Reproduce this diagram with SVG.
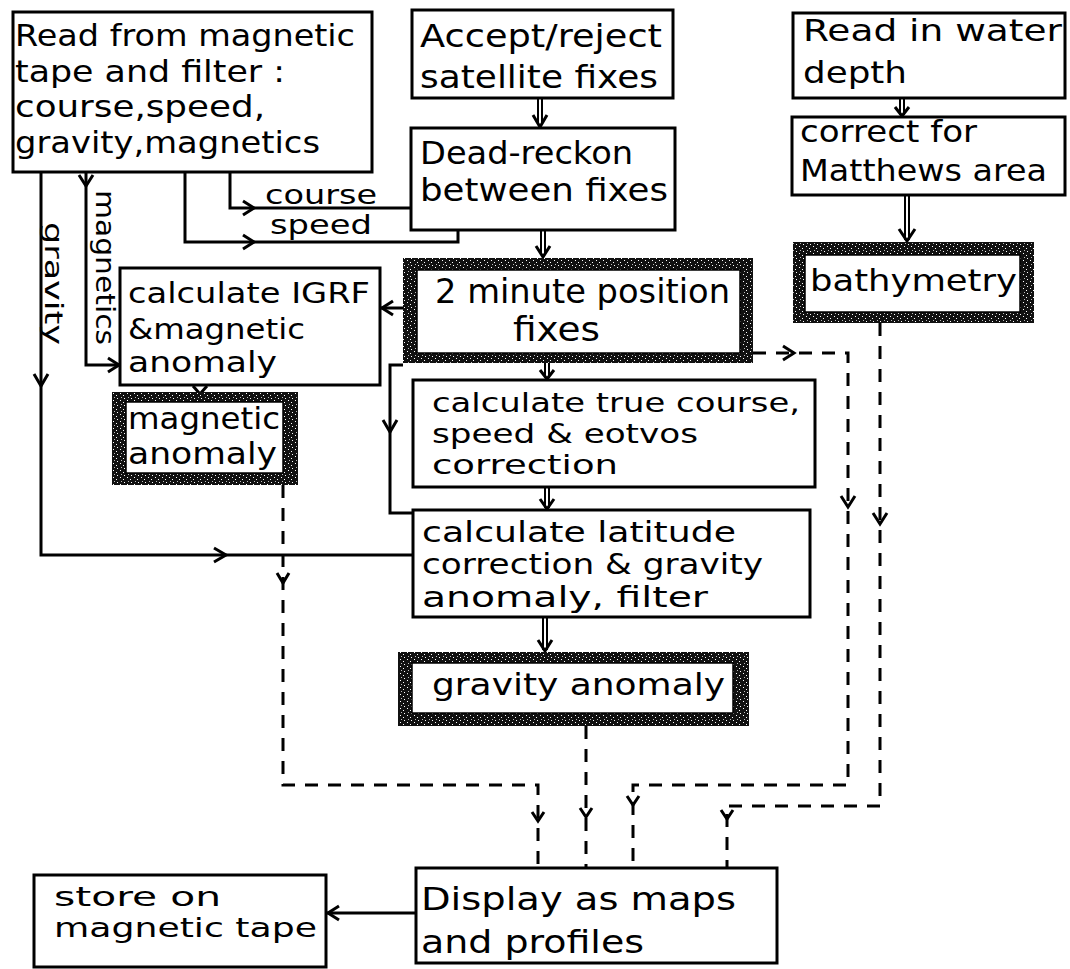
<svg xmlns="http://www.w3.org/2000/svg" width="1070" height="969" viewBox="0 0 1070 969">
<style>
.box{fill:#fff;stroke:#000;stroke-width:3}
.inner{fill:#fff;stroke:#000;stroke-width:1.5}
.t{font-family:"DejaVu Sans","Liberation Sans",sans-serif;font-size:32px;fill:#000}
.s30{font-size:30px}
.s29{font-size:29px}
.s27{font-size:27px}
.s34{font-size:34px}
.ln{fill:none;stroke:#000;stroke-width:3}
.dl{fill:none;stroke:#000;stroke-width:3;stroke-dasharray:13 10}
.hd{fill:none;stroke:#000;stroke-width:3;stroke-linejoin:miter}
.dbl{fill:none;stroke:#000;stroke-width:2}
</style>
<defs>
<pattern id="speckle" width="7" height="7" patternUnits="userSpaceOnUse">
<rect width="7" height="7" fill="#111"/>
<rect x="1" y="1" width="1" height="1" fill="#fff"/>
<rect x="4" y="3" width="1" height="1" fill="#fff"/>
<rect x="2" y="5" width="1" height="1" fill="#bbb"/>
<rect x="5" y="6" width="1" height="1" fill="#fff"/>
</pattern>
</defs>

<g id="connectors">
<path class="ln" d="M230 172 V208 H411"/>
<path class="hd" d="M243 201 L254 208 L243 215"/>
<path class="ln" d="M185 172 V242 H458 V230"/>
<path class="hd" d="M243 235 L254 242 L243 249"/>
<path class="ln" d="M86 172 V365 H120"/>
<path class="hd" d="M79 175 L86 186 L93 175"/>
<path class="hd" d="M108 358 L119 365 L108 372"/>
<path class="ln" d="M41 172 V555 H413"/>
<path class="hd" d="M34 374 L41 386 L48 374"/>
<path class="hd" d="M214 548 L226 555 L214 562"/>
<path class="ln" d="M403 308 H381"/>
<path class="hd" d="M393 301 L382 308 L393 315"/>
<path class="ln" d="M403 365 H390 V513 H413"/>
<path class="hd" d="M383 420 L390 432 L397 420"/>
<path class="ln" d="M416 913 H327"/>
<path class="hd" d="M339 906 L328 913 L339 920"/>
<path class="dbl" d="M538 98 V125 M542 98 V125"/>
<path class="hd" d="M533 115 L540 127 L547 115"/>
<path class="dbl" d="M541 230 V255 M545 230 V255"/>
<path class="hd" d="M536 246 L543 257 L550 246"/>
<path class="dbl" d="M545 363 V378 M549 363 V378"/>
<path class="hd" d="M540 370 L547 379 L554 370"/>
<path class="dbl" d="M545 487 V508 M549 487 V508"/>
<path class="hd" d="M540 499 L547 509 L554 499"/>
<path class="dbl" d="M543 617 V650 M547 617 V650"/>
<path class="hd" d="M538 640 L545 651 L552 640"/>
<path class="dbl" d="M900 98 V115 M904 98 V115"/>
<path class="hd" d="M895 107 L902 116 L909 107"/>
<path class="dbl" d="M905 195 V240 M909 195 V240"/>
<path class="hd" d="M899 229 L907 241 L915 229"/>
<path class="hd" d="M193 386 L200 394 L207 386"/>
<path class="dl" d="M753 353 H848 V785 H633 V868"/>
<path class="hd" d="M783 346 L794 353 L783 360"/>
<path class="hd" d="M841 496 L848 507 L855 496"/>
<path class="hd" d="M627 796 L633 805 L639 796"/>
<path class="dl" d="M880 323 V806 H727 V868"/>
<path class="hd" d="M873 513 L880 524 L887 513"/>
<path class="hd" d="M721 810 L727 819 L733 810"/>
<path class="dl" d="M283 485 V785 H538 V868"/>
<path class="hd" d="M277 573 L283 583 L289 573"/>
<path class="hd" d="M532 812 L538 821 L544 812"/>
<path class="dl" d="M586 726 V868"/>
<path class="hd" d="M580 808 L586 817 L592 808"/>
</g>

<g id="read-tape">
<rect class="box" x="13" y="12" width="359" height="160"/>
<text class="t s30" x="15" y="46" textLength="340" lengthAdjust="spacingAndGlyphs">Read from magnetic</text>
<text class="t s30" x="15" y="82" textLength="270" lengthAdjust="spacingAndGlyphs">tape and filter :</text>
<text class="t s30" x="15" y="117" textLength="250" lengthAdjust="spacingAndGlyphs">course,speed,</text>
<text class="t s30" x="15" y="153" textLength="305" lengthAdjust="spacingAndGlyphs">gravity,magnetics</text>
</g>

<g id="accept-reject">
<rect class="box" x="412" y="10" width="261" height="88"/>
<text class="t" x="420" y="47" textLength="242" lengthAdjust="spacingAndGlyphs">Accept/reject</text>
<text class="t" x="420" y="88" textLength="238" lengthAdjust="spacingAndGlyphs">satellite fixes</text>
</g>

<g id="dead-reckon">
<rect class="box" x="411" y="128" width="264" height="102"/>
<text class="t" x="420" y="164" textLength="213" lengthAdjust="spacingAndGlyphs">Dead-reckon</text>
<text class="t" x="420" y="201" textLength="248" lengthAdjust="spacingAndGlyphs">between fixes</text>
</g>

<g id="labels">
<text class="t s27" x="265" y="204" textLength="112" lengthAdjust="spacingAndGlyphs">course</text>
<text class="t s27" x="270" y="234" textLength="102" lengthAdjust="spacingAndGlyphs">speed</text>
<text class="t s27" transform="translate(96,190) rotate(90)" textLength="155" lengthAdjust="spacingAndGlyphs">magnetics</text>
<text class="t" style="font-size:25px" transform="translate(45,222) rotate(90)" textLength="123" lengthAdjust="spacingAndGlyphs">gravity</text>
</g>

<g id="two-minute">
<rect x="403" y="258" width="350" height="105" fill="url(#speckle)"/>
<rect class="inner" x="417" y="270" width="323" height="83"/>
<text class="t s34" x="435" y="303" textLength="295" lengthAdjust="spacingAndGlyphs">2 minute position</text>
<text class="t s34" x="513" y="341" textLength="87" lengthAdjust="spacingAndGlyphs">fixes</text>
</g>

<g id="igrf">
<rect class="box" x="120" y="268" width="260" height="117"/>
<text class="t s29" x="128" y="303" textLength="242" lengthAdjust="spacingAndGlyphs">calculate IGRF</text>
<text class="t s29" x="128" y="339" textLength="177" lengthAdjust="spacingAndGlyphs">&amp;magnetic</text>
<text class="t s29" x="128" y="372" textLength="149" lengthAdjust="spacingAndGlyphs">anomaly</text>
</g>

<g id="magnetic-anomaly">
<rect x="112" y="392" width="186" height="93" fill="url(#speckle)"/>
<rect class="inner" x="126" y="402" width="157" height="71"/>
<text class="t s30" x="128" y="429" textLength="152" lengthAdjust="spacingAndGlyphs">magnetic</text>
<text class="t s30" x="128" y="464" textLength="149" lengthAdjust="spacingAndGlyphs">anomaly</text>
</g>

<g id="true-course">
<rect class="box" x="413" y="380" width="402" height="107"/>
<text class="t s27" x="432" y="412" textLength="368" lengthAdjust="spacingAndGlyphs">calculate true course,</text>
<text class="t s27" x="432" y="443" textLength="266" lengthAdjust="spacingAndGlyphs">speed &amp; eotvos</text>
<text class="t s27" x="432" y="474" textLength="186" lengthAdjust="spacingAndGlyphs">correction</text>
</g>

<g id="latitude">
<rect class="box" x="413" y="510" width="397" height="107"/>
<text class="t s29" x="422" y="542" textLength="314" lengthAdjust="spacingAndGlyphs">calculate latitude</text>
<text class="t s29" x="422" y="574" textLength="341" lengthAdjust="spacingAndGlyphs">correction &amp; gravity</text>
<text class="t s29" x="422" y="607" textLength="286" lengthAdjust="spacingAndGlyphs">anomaly, filter</text>
</g>

<g id="gravity-anomaly">
<rect x="398" y="652" width="351" height="74" fill="url(#speckle)"/>
<rect class="inner" x="412" y="663" width="321" height="50"/>
<text class="t s30" x="432" y="695" textLength="293" lengthAdjust="spacingAndGlyphs">gravity anomaly</text>
</g>

<g id="read-depth">
<rect class="box" x="793" y="13" width="272" height="85"/>
<text class="t s30" x="803" y="41" textLength="259" lengthAdjust="spacingAndGlyphs">Read in water</text>
<text class="t s30" x="803" y="83" textLength="104" lengthAdjust="spacingAndGlyphs">depth</text>
</g>

<g id="matthews">
<rect class="box" x="792" y="117" width="273" height="78"/>
<text class="t s30" x="800" y="142" textLength="177" lengthAdjust="spacingAndGlyphs">correct for</text>
<text class="t s30" x="800" y="181" textLength="247" lengthAdjust="spacingAndGlyphs">Matthews area</text>
</g>

<g id="bathymetry">
<rect x="793" y="242" width="241" height="81" fill="url(#speckle)"/>
<rect class="inner" x="805" y="255" width="215" height="57"/>
<text class="t s30" x="810" y="291" textLength="207" lengthAdjust="spacingAndGlyphs">bathymetry</text>
</g>

<g id="store">
<rect class="box" x="34" y="875" width="292" height="92"/>
<text class="t s27" x="54" y="906" textLength="167" lengthAdjust="spacingAndGlyphs">store on</text>
<text class="t s27" x="54" y="937" textLength="263" lengthAdjust="spacingAndGlyphs">magnetic tape</text>
</g>

<g id="display">
<rect class="box" x="416" y="868" width="361" height="95"/>
<text class="t" x="421" y="910" textLength="315" lengthAdjust="spacingAndGlyphs">Display as maps</text>
<text class="t" x="421" y="953" textLength="223" lengthAdjust="spacingAndGlyphs">and profiles</text>
</g>
</svg>
